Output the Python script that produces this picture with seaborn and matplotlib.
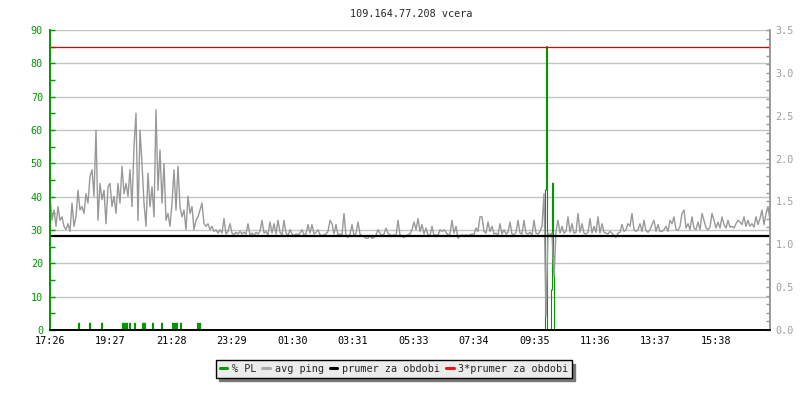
import numpy as np
import pandas as pd
import matplotlib
matplotlib.use('Agg')
import matplotlib.pyplot as plt
import seaborn as sns
from matplotlib.lines import Line2D
from matplotlib.ticker import MultipleLocator, FixedLocator, FixedFormatter

# ==========================================
# Data
# ==========================================
title = '109.164.77.208 vcera'
tick_labels = ['17:26', '19:27', '21:28', '23:29', '01:30', '03:31',
               '05:33', '07:34', '09:35', '11:36', '13:37', '15:38']
tick_step_min = 121.1          # minutes between time labels
span_min = 1440                # whole day, minutes from 17:26

# avg ping [ms], one sample every 4 minutes
ping_step_min = 4
ping_ms = [
    # 17:26 - 23:10, busy evening
    1.56, 1.28, 1.40, 1.21, 1.44, 1.28, 1.32, 1.21, 1.17, 1.24,
    1.15, 1.48, 1.21, 1.32, 1.63, 1.40, 1.44, 1.36, 1.59, 1.48,
    1.79, 1.87, 1.56, 2.33, 1.28, 1.71, 1.52, 1.63, 1.24, 1.67,
    1.71, 1.44, 1.56, 1.36, 1.71, 1.48, 1.91, 1.59, 1.71, 1.56,
    1.87, 1.44, 2.14, 2.53, 1.28, 2.33, 1.94, 1.48, 1.21, 1.83,
    1.44, 1.67, 1.32, 2.57, 1.63, 2.10, 1.48, 1.94, 1.28, 1.36,
    1.21, 1.48, 1.87, 1.40, 1.91, 1.44, 1.32, 1.40, 1.17, 1.56,
    1.36, 1.44, 1.17, 1.28, 1.32, 1.40, 1.48, 1.24, 1.21, 1.24,
    1.17, 1.21, 1.15, 1.17, 1.13, 1.17,
    # night
    1.13, 1.30, 1.12, 1.15, 1.24, 1.13, 1.11, 1.14, 1.12, 1.15,
    1.12, 1.14, 1.12, 1.24, 1.11, 1.13, 1.10, 1.14, 1.12, 1.15,
    1.28, 1.13, 1.15, 1.11, 1.26, 1.13, 1.24, 1.12, 1.28, 1.14,
    1.11, 1.28, 1.13, 1.10, 1.17, 1.12, 1.10, 1.12, 1.11, 1.13,
    1.17, 1.11, 1.12, 1.23, 1.13, 1.23, 1.12, 1.14, 1.17, 1.11,
    1.10, 1.11, 1.12, 1.15, 1.28, 1.24, 1.12, 1.23, 1.11, 1.12,
    1.11, 1.36, 1.10, 1.08, 1.12, 1.23, 1.10, 1.13, 1.26, 1.12,
    1.10, 1.09, 1.07, 1.07, 1.10, 1.07, 1.08, 1.11, 1.17, 1.13,
    1.10, 1.12, 1.19, 1.13, 1.11, 1.10, 1.11, 1.10, 1.28, 1.11,
    1.09, 1.08, 1.10, 1.11, 1.12, 1.17, 1.26, 1.17, 1.30, 1.15,
    1.23, 1.12, 1.19, 1.11, 1.10, 1.21, 1.10, 1.11, 1.10, 1.17,
    1.15, 1.17, 1.14, 1.11, 1.12, 1.28, 1.13, 1.21, 1.07, 1.10,
    1.11, 1.10, 1.11, 1.10, 1.11, 1.12, 1.11, 1.19, 1.15, 1.32,
    1.32, 1.15, 1.13, 1.26, 1.15, 1.21, 1.12, 1.13, 1.11, 1.24,
    1.12, 1.17, 1.12, 1.14, 1.26, 1.12, 1.11, 1.14, 1.28, 1.13,
    1.12, 1.28, 1.13, 1.12, 1.14, 1.11, 1.28, 1.13, 1.12, 1.15,
    # outage around 09:50
    1.21, 1.59, 0.16, 1.13, 1.11, 1.13, 0.62, 1.15, 1.28, 1.13,
    # day
    1.21, 1.13, 1.15, 1.32, 1.14, 1.24, 1.13, 1.14, 1.36, 1.14,
    1.24, 1.13, 1.12, 1.14, 1.30, 1.13, 1.21, 1.14, 1.32, 1.13,
    1.24, 1.14, 1.13, 1.12, 1.15, 1.13, 1.10, 1.08, 1.13, 1.14,
    1.23, 1.15, 1.17, 1.24, 1.21, 1.36, 1.17, 1.15, 1.17, 1.24,
    1.15, 1.28, 1.16, 1.14, 1.17, 1.23, 1.28, 1.15, 1.23, 1.15,
    1.15, 1.17, 1.21, 1.15, 1.28, 1.24, 1.32, 1.17, 1.16, 1.21,
    1.36, 1.40, 1.19, 1.24, 1.17, 1.32, 1.19, 1.17, 1.26, 1.17,
    1.36, 1.28, 1.19, 1.17, 1.20, 1.36, 1.28, 1.19, 1.26, 1.19,
    1.32, 1.23, 1.19, 1.28, 1.20, 1.21, 1.19, 1.24, 1.28, 1.26,
    1.23, 1.32, 1.21, 1.28, 1.21, 1.24, 1.20, 1.32, 1.23, 1.30,
    1.40, 1.23, 1.36, 1.44, 1.28,
]
mean_ping_ms = 1.10

# packet loss [%], 2-minute samples, only the non-zero ones
pl_step_min = 2
pl_minutes = [58, 80, 104, 146, 150, 154, 160, 170, 186, 190, 206, 224,
              246, 250, 254, 262, 296, 300,
              992, 994, 1004, 1006, 1008]
pl_percent = [2, 2, 2, 2, 2, 2, 2, 2, 2, 2, 2, 2,
              2, 2, 2, 2, 2, 2,
              42, 85, 12, 44, 22]

# ==========================================
# Tables
# ==========================================
df_ping = pd.DataFrame({'t': np.arange(len(ping_ms)) * ping_step_min,
                        'ping': ping_ms})
pl_grid = np.arange(0, span_min + 1, pl_step_min)
df_pl = pd.DataFrame({'t': pl_grid, 'pl': 0.0}).set_index('t')
df_pl.loc[pl_minutes, 'pl'] = pl_percent
df_pl = df_pl.reset_index()

# ==========================================
# Plot
# ==========================================
sns.set_style('white')
plt.rcParams['font.family'] = ['DejaVu Sans Mono']
FS = 7.3
GREEN = '#009900'
GRAY = '#999999'
RED = '#dd0000'

fig = plt.figure(figsize=(8, 4), dpi=100)
ax = fig.add_axes([50 / 800, 70 / 400, 720 / 800, 300 / 400])
ax2 = ax.twinx()

sns.lineplot(data=df_pl, x='t', y='pl', ax=ax, color=GREEN, lw=0.8,
             drawstyle='steps-mid', estimator=None, legend=False)
sns.lineplot(data=df_ping, x='t', y='ping', ax=ax2, color=GRAY, lw=1.0,
             estimator=None, legend=False)
ax2.axhline(mean_ping_ms, color='black', lw=1.6)
ax2.axhline(3 * mean_ping_ms, color=RED, lw=0.9)

ax.set_xlim(0, span_min)
ax.set_ylim(0, 90)
ax2.set_ylim(0, 3.5)

# grid from the left axis
ax.yaxis.set_major_locator(MultipleLocator(10))
ax.yaxis.set_minor_locator(MultipleLocator(5))
ax.grid(axis='y', color='#c4c4c4', lw=1.0)
ax.grid(axis='x', visible=False)
ax.set_axisbelow(True)

xt = np.arange(len(tick_labels)) * tick_step_min
ax.xaxis.set_major_locator(FixedLocator(xt))
ax.xaxis.set_major_formatter(FixedFormatter(tick_labels))
ax2.yaxis.set_major_locator(MultipleLocator(0.5))
ax2.yaxis.set_minor_locator(MultipleLocator(0.1))
ax2.yaxis.set_major_formatter(plt.FuncFormatter(lambda v, p: f'{v:.1f}'))

ax.tick_params(axis='x', direction='in', length=4, width=1, color='black',
               labelsize=FS, labelcolor='black', pad=4)
ax.tick_params(axis='y', which='both', direction='in', length=3.5, width=1,
               color=GREEN, labelsize=FS, labelcolor=GREEN, pad=5)
ax2.tick_params(axis='y', which='both', direction='in', length=3, width=1,
                color=GRAY, labelsize=FS, labelcolor='#a0a0a0', pad=4)

for a in (ax, ax2):
    a.set_xlabel('')
    a.set_ylabel('')
    a.spines['top'].set_visible(False)
    a.spines['left'].set_color(GREEN)
    a.spines['right'].set_color(GRAY)
    a.spines['bottom'].set_color('black')
    for s in a.spines.values():
        s.set_linewidth(1.2)

fig.text(411 / 800, 1 - 14 / 400, title, ha='center', va='center', fontsize=FS)

handles = [Line2D([], [], color=GREEN, lw=2.2),
           Line2D([], [], color='#aaaaaa', lw=2.2),
           Line2D([], [], color='black', lw=2.2),
           Line2D([], [], color='#ee1111', lw=2.2)]
labels = ['% PL', 'avg ping', 'prumer za obdobi', '3*prumer za obdobi']
leg = fig.legend(handles, labels, loc='center', bbox_to_anchor=(394 / 800, 1 - 369 / 400),
                 ncol=4, fontsize=FS, frameon=True, fancybox=False,
                 shadow={'color': '#777777', 'alpha': 1, 'ox': 2.2, 'oy': -2.2},
                 handlelength=0.75, handletextpad=0.45, columnspacing=0.6,
                 borderpad=0.35, borderaxespad=0)
leg.get_frame().set_facecolor('#ececec')
leg.get_frame().set_edgecolor('black')
leg.get_frame().set_linewidth(1.0)
leg.get_frame().set_alpha(1)

fig.savefig('out.png', dpi=100)
